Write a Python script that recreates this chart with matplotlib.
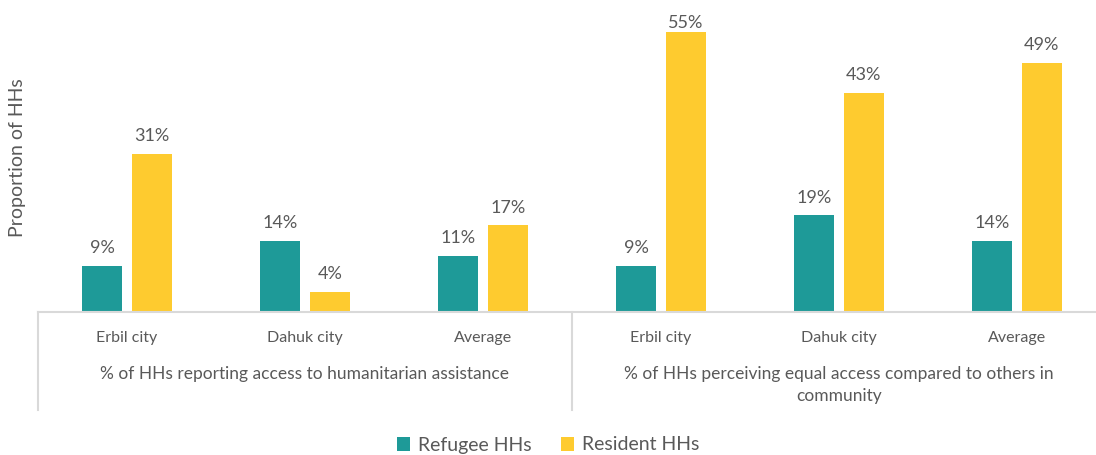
import matplotlib.pyplot as plt
import numpy as np

# data
cities = ['Erbil city', 'Dahuk city', 'Average', 'Erbil city', 'Dahuk city', 'Average']
groups = ['% of HHs reporting access to humanitarian assistance',
          '% of HHs perceiving equal access compared to others in\ncommunity']
refugee = [9, 14, 11, 9, 19, 14]
resident = [31, 4, 17, 55, 43, 49]

teal = '#1e9a98'
yellow = '#fecb2f'
grey_txt = '#595959'
line_col = '#d9d9d9'

plt.rcParams['font.family'] = ['Lato', 'DejaVu Sans']

fig = plt.figure(figsize=(10.96, 4.55), dpi=100)
ax = fig.add_axes([38 / 1096, 143 / 455, 1068 / 1096, 312 / 455])

x = np.arange(len(cities))
w = 0.225
off = 0.14
ymax = 61.3
b1 = ax.bar(x - off, refugee, w, color=teal, label='Refugee HHs')
b2 = ax.bar(x + off, resident, w, color=yellow, label='Resident HHs')

for bars, vals in [(b1, refugee), (b2, resident)]:
    for b, v in zip(bars, vals):
        # labels near the top get squeezed down onto the bar
        dy = 7 if v < ymax - 8 else 1
        ax.annotate(f'{v}%', (b.get_x() + b.get_width() / 2, v),
                    xytext=(0, dy), textcoords='offset points',
                    ha='center', va='bottom', fontsize=13, color=grey_txt)

ax.set_xlim(-0.5, len(cities) - 0.5)
ax.set_ylim(0, ymax)
ax.set_yticks([])
ax.set_xticks(x)
ax.set_xticklabels(cities, fontsize=11.5, color=grey_txt)
ax.tick_params(axis='x', length=0, pad=14)

for s in ['top', 'right', 'left']:
    ax.spines[s].set_visible(False)
ax.spines['bottom'].set_color(line_col)
ax.spines['bottom'].set_linewidth(1.5)

# group separators and labels
trans = ax.get_xaxis_transform()
for xs in [-0.5, 2.5, 5.5]:
    ax.plot([xs, xs], [0, -98 / 312], transform=trans, color=line_col,
            lw=1.5, clip_on=False)
for i, g in enumerate(groups):
    ax.text(1 + 3 * i, -54 / 312, g, transform=trans, ha='center', va='top',
            fontsize=12.5, color=grey_txt, linespacing=1.45)

fig.text(18 / 1096, 1 - 158 / 455, 'Proportion of HHs', rotation=90,
         ha='center', va='center', fontsize=14, color=grey_txt)

fig.legend(handles=[b1, b2], loc='center', bbox_to_anchor=(0.5, 1 - 445 / 455),
           ncol=2, frameon=False, fontsize=14, handlelength=0.7,
           handleheight=0.7, handletextpad=0.4, columnspacing=1.5,
           labelcolor=grey_txt)

fig.savefig('out.png', dpi=100)
